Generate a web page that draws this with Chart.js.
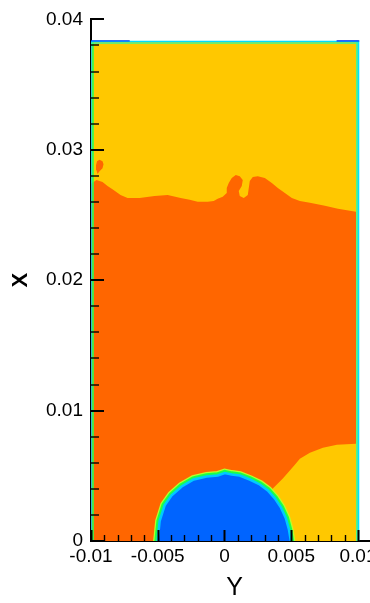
<!DOCTYPE html>
<html>
<head>
<meta charset="utf-8">
<script src="https://cdn.jsdelivr.net/npm/chart.js@4.4.0/dist/chart.umd.min.js"></script>
<style>
  html, body { margin: 0; padding: 0; background: #fff; overflow: hidden; }
  #wrap { width: 370px; height: 603px; overflow: hidden; }
  canvas { display: block; }
</style>
</head>
<body>
<div id="wrap"><canvas id="contour" width="400" height="603"></canvas></div>
<script>
// axis ticks
const X_TICKS = [-0.01, -0.005, 0, 0.005, 0.01];
const Y_TICKS = [0, 0.01, 0.02, 0.03, 0.04];

// computational box
const DOMAIN_LEFT = -0.01;
const DOMAIN_RIGHT = 0.01;
const DOMAIN_TOP = 0.0383;

// liquid front (left wall -> right wall), [Y, X]
const FRONT = [
  [-0.01, 0.0274], [-0.009587, 0.02768], [-0.009137, 0.02753], [-0.008762, 0.02722],
  [-0.008311, 0.02692], [-0.007786, 0.02654], [-0.007261, 0.02631], [-0.00636, 0.02631],
  [-0.005235, 0.02646], [-0.004259, 0.02654], [-0.003283, 0.02631], [-0.002608, 0.02616],
  [-0.002008, 0.02601], [-0.001257, 0.02601], [-0.000807, 0.02608], [-0.000507, 0.02624],
  [-0.000131, 0.02639], [0.000169, 0.02669], [0.000169, 0.02707], [0.000319, 0.02745],
  [0.000544, 0.02783], [0.000844, 0.02806], [0.001144, 0.02798], [0.00137, 0.02768],
  [0.001295, 0.02722], [0.001069, 0.02684], [0.001144, 0.02646], [0.001445, 0.02631],
  [0.001745, 0.02654], [0.00182, 0.02707], [0.001895, 0.0276], [0.00212, 0.02791],
  [0.002495, 0.02798], [0.003021, 0.02783], [0.003546, 0.02745], [0.003996, 0.02707],
  [0.004522, 0.02669], [0.005047, 0.02631], [0.005647, 0.02608], [0.006398, 0.02593],
  [0.007523, 0.0257], [0.008499, 0.02548], [0.0094, 0.02532], [0.00985, 0.02525]
];

// gas pocket beside the bubble (right wall -> bubble)
const POCKET = [
  [0.00985, 0.00745], [0.008424, 0.007376], [0.007373, 0.007148], [0.006398, 0.006768],
  [0.005647, 0.006312], [0.005272, 0.005855], [0.004897, 0.005399], [0.004371, 0.004791],
  [0.003996, 0.004411], [0.003621, 0.00403], [0.002, 0.002], [0.002, -0.001]
];

// small detached drop near the left wall
const DROPLET = [
  [-0.009362, 0.02924], [-0.009137, 0.02912], [-0.009062, 0.0289], [-0.009137, 0.02859],
  [-0.009362, 0.02836], [-0.009512, 0.02814], [-0.009587, 0.02844], [-0.009624, 0.02882],
  [-0.009549, 0.02912]
];

// bubble interface on the wall
const BUBBLE = [
  [-0.005009, -0.0008], [-0.005009, 0], [-0.004859, 0.001521], [-0.004484, 0.002738],
  [-0.003959, 0.003498], [-0.003208, 0.004183], [-0.002308, 0.004715], [-0.001332, 0.004943],
  [-0.000507, 0.005019], [0.000019, 0.005209], [0.000544, 0.005095], [0.001144, 0.005019],
  [0.001895, 0.004715], [0.002645, 0.004335], [0.003246, 0.003878], [0.003771, 0.00327],
  [0.004221, 0.002586], [0.004597, 0.001749], [0.004822, 0.000913], [0.004972, 0],
  [0.004972, -0.0008]
];

const YELLOW = '#ffc800';
const ORANGE = '#ff6600';
const BLUE = '#0064ff';

function layer(points, opts) {
  return Object.assign({
    data: points.map(([x, y]) => ({ x, y })),
    pointRadius: 0,
    borderWidth: 0,
    borderColor: 'transparent',
    tension: 0,
    fill: false,
    clip: 0
  }, opts);
}

function line(points, color, width) {
  return layer(points, { borderColor: color, borderWidth: width });
}

const box = [
  [DOMAIN_LEFT, -0.001], [DOMAIN_LEFT, DOMAIN_TOP],
  [DOMAIN_RIGHT, DOMAIN_TOP], [DOMAIN_RIGHT, -0.001]
];
const liquid = [[DOMAIN_LEFT, -0.001], ...FRONT, ...POCKET];

// listed bottom to top
const layers = [
  layer(box, { fill: 'shape', backgroundColor: YELLOW }),
  layer(liquid, { fill: 'shape', backgroundColor: ORANGE }),
  layer(DROPLET, { fill: 'shape', backgroundColor: ORANGE }),
  line(BUBBLE, '#b8ff2a', 9),
  line(BUBBLE, '#1aff4a', 6.5),
  layer(BUBBLE, { fill: 'shape', backgroundColor: BLUE, borderColor: '#00caff', borderWidth: 2.5 }),
  // wall layers
  line([[-0.00994, -0.001], [-0.00994, DOMAIN_TOP]], '#00d0ff', 1.2),
  line([[-0.00985, -0.001], [-0.00985, DOMAIN_TOP - 0.0001]], '#2cff50', 1.6),
  line([[0.00991, -0.001], [0.00991, DOMAIN_TOP]], '#40ff90', 1.4),
  line([[0.01003, -0.001], [0.01003, DOMAIN_TOP + 0.00005]], '#00e4ff', 1.8),
  line([[DOMAIN_LEFT, DOMAIN_TOP - 0.00012], [DOMAIN_RIGHT, DOMAIN_TOP - 0.00012]], '#3cff8c', 1.2),
  line([[DOMAIN_LEFT, DOMAIN_TOP], [DOMAIN_RIGHT, DOMAIN_TOP]], '#00dcff', 1.6),
  line([[DOMAIN_LEFT, DOMAIN_TOP + 0.00005], [-0.0071, DOMAIN_TOP + 0.00005]], '#0040ff', 1.2),
  line([[0.0084, DOMAIN_TOP + 0.00005], [DOMAIN_RIGHT + 0.0001, DOMAIN_TOP + 0.00005]], '#0028ff', 1.4)
].map((d, i, all) => Object.assign(d, { order: all.length - i }));

// Tecplot style ticks pointing into the plot
const inwardTicks = {
  id: 'inwardTicks',
  afterDatasetsDraw(chart) {
    const { ctx, chartArea: area, scales: { x, y } } = chart;
    ctx.save();
    ctx.strokeStyle = '#000';
    // horizontal axis: minor every 0.001, major every 0.005
    for (let i = -10; i <= 10; i++) {
      const px = Math.round(x.getPixelForValue(i / 1000)) + 0.5;
      const major = i % 5 === 0;
      ctx.lineWidth = major ? 2 : 1.4;
      ctx.beginPath();
      ctx.moveTo(px, area.bottom);
      ctx.lineTo(px, area.bottom - (major ? 11 : 6));
      ctx.stroke();
    }
    // vertical axis: minor every 0.002, major every 0.01
    for (let i = 0; i <= 20; i++) {
      const py = Math.round(y.getPixelForValue(i * 0.002));
      const major = i % 5 === 0;
      ctx.lineWidth = major ? 2 : 1.4;
      ctx.beginPath();
      ctx.moveTo(area.left, py);
      ctx.lineTo(area.left + (major ? 13 : 8), py);
      ctx.stroke();
    }
    ctx.restore();
  }
};

const fmt = v => String(Number(v.toFixed(4)));

new Chart(document.getElementById('contour'), {
  type: 'line',
  data: { datasets: layers },
  plugins: [inwardTicks],
  options: {
    responsive: false,
    animation: false,
    layout: { padding: { top: 15, right: 22, left: 0, bottom: 0 } },
    plugins: { legend: { display: false }, tooltip: { enabled: false } },
    scales: {
      x: {
        type: 'linear',
        min: -0.01,
        max: 0.0115,
        z: 1,
        afterBuildTicks: s => { s.ticks = X_TICKS.map(value => ({ value })); },
        afterFit: s => { s.height = 62; },
        grid: { display: false, drawTicks: false },
        border: { display: true, color: '#000', width: 2 },
        ticks: {
          padding: 4,
          color: '#000',
          maxRotation: 0,
          font: { family: 'Liberation Sans, Arial, sans-serif', size: 19 },
          callback: v => fmt(v)
        },
        title: {
          display: true,
          text: 'Y',
          color: '#000',
          padding: { top: 0, bottom: 0 },
          font: { family: 'Liberation Sans, Arial, sans-serif', size: 25 }
        }
      },
      y: {
        type: 'linear',
        min: 0,
        max: 0.04,
        z: 1,
        afterBuildTicks: s => { s.ticks = Y_TICKS.map(value => ({ value })); },
        afterFit: s => { s.width = 91; },
        grid: { display: false, drawTicks: false },
        border: { display: true, color: '#000', width: 2 },
        ticks: {
          padding: 8,
          color: '#000',
          font: { family: 'Liberation Sans, Arial, sans-serif', size: 19 },
          callback: v => fmt(v)
        },
        title: {
          display: true,
          text: 'X',
          color: '#000',
          padding: { top: 8, bottom: 0 },
          font: { family: 'Liberation Sans, Arial, sans-serif', size: 22, weight: 'bold' }
        }
      }
    }
  }
});
</script>
</body>
</html>
